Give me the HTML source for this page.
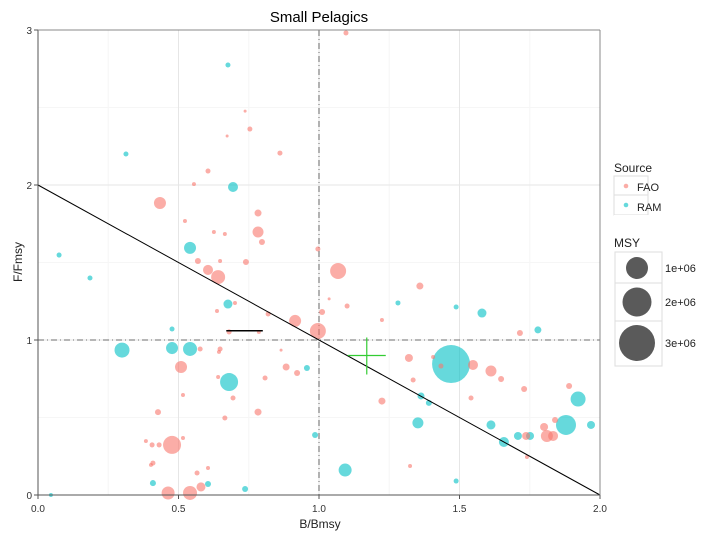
<!DOCTYPE html>
<html><head><meta charset="utf-8"><style>
html,body{margin:0;padding:0;background:#fff;}
svg{display:block;font-family:"Liberation Sans",Arial,sans-serif;}
</style></head><body>
<svg id="chart" width="720" height="540" viewBox="0 0 720 540">
<text x="319" y="22" text-anchor="middle" font-size="15" fill="#000">Small Pelagics</text>
<text x="320" y="528" text-anchor="middle" font-size="12" fill="#222">B/Bmsy</text>
<text x="22" y="262" text-anchor="middle" font-size="12" fill="#222" transform="rotate(-90 22 262)">F/Fmsy</text>
<g id="grid"></g>
<g id="marks"></g>
<g id="axes"></g>
<g>
<text x="614" y="172" font-size="12" fill="#222">Source</text>
<rect x="614" y="176" width="34" height="19" fill="#fff" stroke="#ddd"/>
<circle cx="626" cy="186" r="2.3" fill="#F8766D" fill-opacity="0.6"/>
<text x="637" y="191" font-size="11" fill="#222">FAO</text>
<rect x="614" y="195" width="34" height="20" fill="#fff" stroke="#ddd"/>
<circle cx="626" cy="205" r="2.3" fill="#00BFC4" fill-opacity="0.6"/>
<text x="637" y="211" font-size="11" fill="#222">RAM</text>
<rect x="614" y="215" width="40" height="5" fill="#fff"/>
<text x="614" y="247" font-size="12" fill="#222">MSY</text>
<rect x="615" y="252" width="47" height="31" fill="#fff" stroke="#ddd"/>
<rect x="615" y="283" width="47" height="38" fill="#fff" stroke="#ddd"/>
<rect x="615" y="321" width="47" height="45" fill="#fff" stroke="#ddd"/>
<circle cx="637" cy="268" r="11" fill="#5a5a5a"/>
<circle cx="637" cy="302" r="14.5" fill="#5a5a5a"/>
<circle cx="637" cy="343" r="18" fill="#5a5a5a"/>
<text x="665" y="272" font-size="11" fill="#222">1e+06</text>
<text x="665" y="306" font-size="11" fill="#222">2e+06</text>
<text x="665" y="347" font-size="11" fill="#222">3e+06</text>
</g>
</svg>
<script>
const faoB=[0.737,0.754,0.673,0.861,0.605,0.555,0.434,0.523,0.783,0.783,0.626,0.665,0.797,0.996,0.569,0.648,0.740,0.605,0.641,0.701,0.637,1.011,0.819,0.915,0.680,0.786,0.996,0.577,0.648,0.644,0.865,0.509,0.883,0.922,0.641,0.808,0.516,0.694,0.427,0.783,0.665,0.384,0.406,0.431,0.516,0.477,0.402,0.409,0.566,0.605,0.580,0.463,0.541,1.068,1.036,1.100,1.224,1.359,1.320,1.335,1.224,1.434,1.548,1.612,1.648,1.730,1.541,1.715,1.890,1.324,1.740,1.801,1.840,1.811,1.833,1.737,1.096,1.406];
const faoF=[2.477,2.361,2.316,2.206,2.090,2.006,1.884,1.768,1.819,1.697,1.697,1.684,1.632,1.587,1.510,1.510,1.503,1.452,1.406,1.239,1.187,1.181,1.168,1.123,1.052,1.052,1.058,0.942,0.942,0.923,0.935,0.826,0.826,0.787,0.761,0.755,0.645,0.626,0.535,0.535,0.497,0.348,0.323,0.323,0.368,0.323,0.194,0.206,0.142,0.174,0.052,0.013,0.013,1.445,1.265,1.219,1.129,1.348,0.884,0.742,0.606,0.832,0.839,0.800,0.748,0.684,0.626,1.045,0.703,0.187,0.245,0.439,0.484,0.381,0.381,0.381,2.981,0.890];
const faoMsy=[20,57,20,57,57,36,327,36,111,274,36,36,82,57,82,36,82,227,444,36,36,82,57,327,57,36,580,57,57,36,20,327,111,82,36,57,36,57,82,111,57,36,57,57,36,735,36,57,57,36,184,383,444,580,20,57,36,111,145,57,111,57,227,274,82,82,57,82,82,36,36,145,82,327,227,145,57,36];
const ramB=[0.676,0.313,0.694,0.075,0.541,0.185,0.676,0.477,0.299,0.477,0.541,0.680,0.957,0.986,0.046,0.409,0.605,0.737,1.281,1.488,1.580,1.779,1.470,1.363,1.391,1.352,1.612,1.658,1.922,1.879,1.968,1.093,1.488,1.708,1.751];
const ramF=[2.774,2.200,1.987,1.548,1.594,1.400,1.232,1.071,0.935,0.948,0.942,0.729,0.819,0.387,0.0,0.077,0.071,0.039,1.239,1.213,1.174,1.065,0.845,0.639,0.594,0.465,0.452,0.342,0.619,0.452,0.452,0.161,0.090,0.381,0.381];
const ramMsy=[57,57,227,57,327,57,184,57,510,327,444,735,82,82,36,82,82,82,57,57,184,111,3270,111,82,274,184,227,510,907,145,383,57,145,145];
const xTicks=[0,0.5,1,1.5,2];
const xTickLabels=["0.0","0.5","1.0","1.5","2.0"];
const yTicks=[0,1,2,3];
const yTickLabels=["0","1","2","3"];
const refB=[1.17], refF=[0.9];

const NS="http://www.w3.org/2000/svg";
const L=38,R=600,T=30,B=495;
const sx=v=>L+(v/2)*(R-L);
const sy=v=>B-(v/3)*(B-T);
const sr=m=>10.5*Math.sqrt(m/1000);
function mk(tag,attrs,parent){const e=document.createElementNS(NS,tag);for(const k in attrs)e.setAttribute(k,attrs[k]);parent.appendChild(e);return e;}
const grid=document.getElementById('grid'),marks=document.getElementById('marks'),axes=document.getElementById('axes');
// minor grid
[0.25,0.75,1.25,1.75].forEach(v=>{const l=mk('line',{x1:sx(v),x2:sx(v),y1:T,y2:B,stroke:'#f6f6f6'},grid);});
[0.5,1.5,2.5].forEach(v=>{const l=mk('line',{x1:L,x2:R,y1:sy(v),y2:sy(v),stroke:'#f6f6f6'},grid);});
xTicks.forEach(v=>{const l=mk('line',{x1:sx(v),x2:sx(v),y1:T,y2:B,stroke:'#e6e6e6'},grid);});
yTicks.forEach(v=>{const l=mk('line',{x1:L,x2:R,y1:sy(v),y2:sy(v),stroke:'#e6e6e6'},grid);});
// reference lines
let rl=mk('line',{x1:sx(1),x2:sx(1),y1:T,y2:B,stroke:'#444','stroke-dasharray':'6,3,1,3','stroke-width':0.8},grid);

rl=mk('line',{x1:L,x2:R,y1:sy(1),y2:sy(1),stroke:'#444','stroke-dasharray':'6,3,1,3','stroke-width':0.8},grid);

// points
function drawPts(bs,fs,ms,col,name){bs.forEach((b,i)=>{const c=mk('circle',{cx:sx(b),cy:sy(fs[i]),r:Math.max(1.5,sr(ms[i])),fill:col,'fill-opacity':0.6},marks);

});}
drawPts(ramB,ramF,ramMsy,'#00BFC4','ram-point');
drawPts(faoB,faoF,faoMsy,'#F8766D','fao-point');
// diagonal line F = 2 - B
let dl=mk('line',{x1:sx(0),y1:sy(2),x2:sx(2),y2:sy(0),stroke:'#000','stroke-width':1},marks);

let sl=mk('line',{x1:sx(0.67),y1:sy(1.06),x2:sx(0.80),y2:sy(1.06),stroke:'#000','stroke-width':1.5},marks);

// green cross
refB.forEach((b,i)=>{const cx=sx(b),cy=sy(refF[i]);
const h=mk('line',{x1:cx-19,x2:cx+19,y1:cy,y2:cy,stroke:'#33cc33','stroke-width':1.2},marks);

const v=mk('line',{x1:cx,x2:cx,y1:cy-18,y2:cy+19,stroke:'#33cc33','stroke-width':1.2},marks);
});
// axes
let ax=mk('line',{x1:L,x2:R,y1:B,y2:B,stroke:'#555'},axes);
ax=mk('line',{x1:L,x2:L,y1:T,y2:B,stroke:'#555'},axes);
ax=mk('line',{x1:L,x2:R,y1:T,y2:T,stroke:'#888'},axes);
ax=mk('line',{x1:R,x2:R,y1:T,y2:B,stroke:'#888'},axes);
xTicks.forEach((v,i)=>{const t=mk('line',{x1:sx(v),x2:sx(v),y1:B,y2:B+4,stroke:'#555'},axes);
const tx=mk('text',{x:sx(v),y:B+17,'text-anchor':'middle','font-size':10,fill:'#333'},axes);tx.textContent=xTickLabels[i];
});
yTicks.forEach((v,i)=>{const t=mk('line',{x1:L-4,x2:L,y1:sy(v),y2:sy(v),stroke:'#555'},axes);
const tx=mk('text',{x:L-6,y:sy(v)+4,'text-anchor':'end','font-size':10,fill:'#333'},axes);tx.textContent=yTickLabels[i];
});
</script>
</body></html>
